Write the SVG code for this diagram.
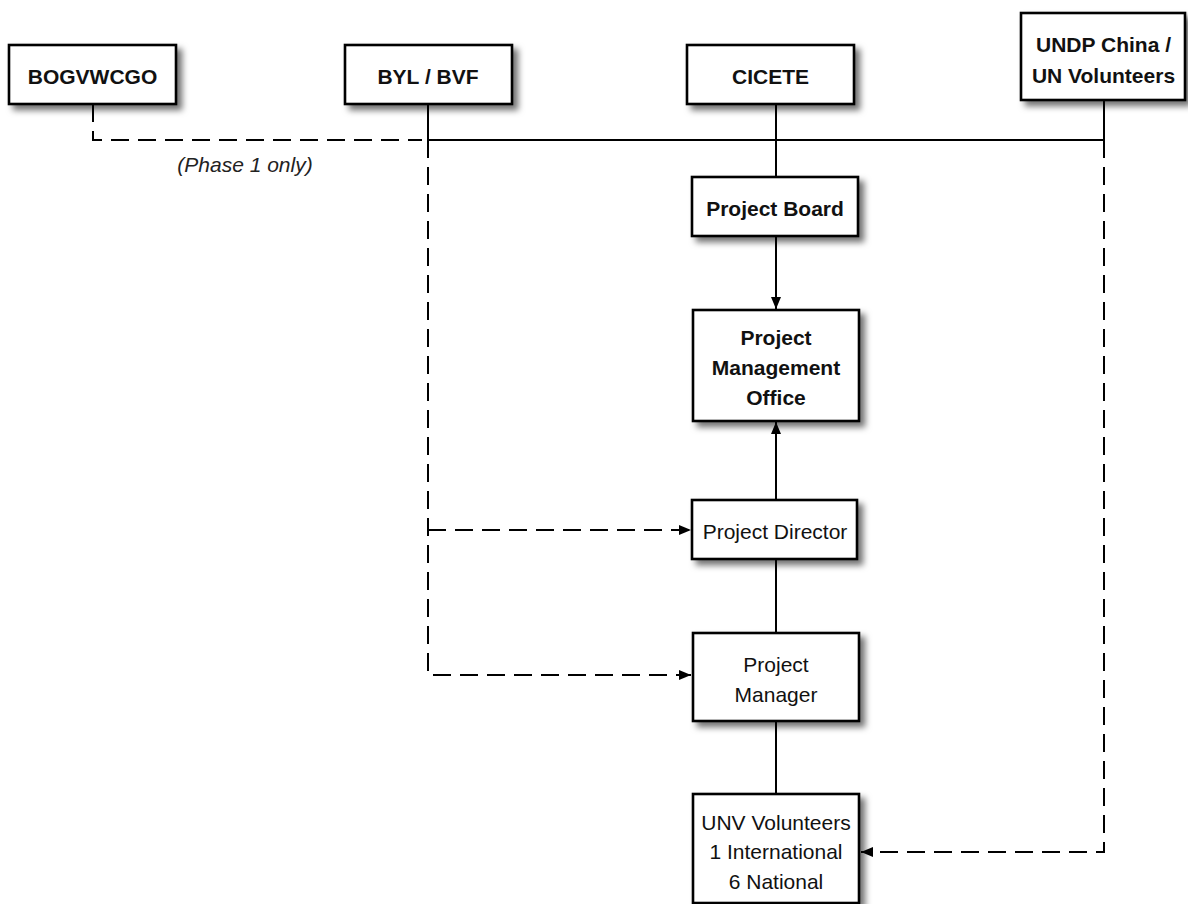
<svg xmlns="http://www.w3.org/2000/svg" width="1188" height="904" viewBox="0 0 1188 904">
  <style>
    .box { fill: #ffffff; stroke: #000000; stroke-width: 2.6; filter: url(#shadow); }
    .t { font-family: "Liberation Sans", Arial, sans-serif; font-size: 21px; fill: #111111; text-anchor: middle; }
    .b { font-weight: bold; }
    .it { font-style: italic; fill: #222222; }
    .solid { fill: none; stroke: #000000; stroke-width: 2; }
    .dash { fill: none; stroke: #000000; stroke-width: 2; stroke-dasharray: 18 9; }
  </style>
  <defs>
    <filter id="shadow" x="-10%" y="-10%" width="130%" height="140%">
      <feDropShadow dx="5" dy="5" stdDeviation="3" flood-color="#000000" flood-opacity="0.55"/>
    </filter>
    <marker id="arrow" viewBox="0 0 12 10" refX="12" refY="5" markerWidth="12" markerHeight="10" markerUnits="userSpaceOnUse" orient="auto">
      <path d="M0,0 L12,5 L0,10 z" fill="#000000" stroke="none"/>
    </marker>
  </defs>
  <rect width="1188" height="904" fill="#ffffff"/>

  <g id="connectors">
    <path class="dash" d="M93,104 V140 H422"/>
    <path class="solid" d="M428,104 V140 H1104"/>
    <path class="solid" d="M1104,100 V140"/>
    <path class="solid" d="M776,104 V177"/>
    <path class="solid" d="M776,236 V309" marker-end="url(#arrow)"/>
    <path class="solid" d="M776,500 V422" marker-end="url(#arrow)"/>
    <path class="solid" d="M776,559 V633"/>
    <path class="solid" d="M776,721 V794"/>
    <path class="dash" d="M428,140 V675 H691" marker-end="url(#arrow)"/>
    <path class="dash" d="M428,530 H691" marker-end="url(#arrow)"/>
    <path class="dash" d="M1104,140 V852 H861" marker-end="url(#arrow)"/>
    <text class="t it" x="245" y="172">(Phase 1 only)</text>
  </g>

  <g id="node-bogvwcgo">
    <rect class="box" x="9" y="45" width="167" height="59"/>
    <text class="t b" x="92.5" y="84">BOGVWCGO</text>
  </g>
  <g id="node-byl-bvf">
    <rect class="box" x="345" y="45" width="167" height="59"/>
    <text class="t b" x="428" y="84">BYL / BVF</text>
  </g>
  <g id="node-cicete">
    <rect class="box" x="687" y="45" width="167" height="59"/>
    <text class="t b" x="770.5" y="84">CICETE</text>
  </g>
  <g id="node-undp">
    <rect class="box" x="1021" y="13" width="164" height="87"/>
    <text class="t b" x="1103.5" y="52">UNDP China /</text>
    <text class="t b" x="1103.5" y="83">UN Volunteers</text>
  </g>
  <g id="node-project-board">
    <rect class="box" x="692" y="177" width="166" height="59"/>
    <text class="t b" x="775" y="216">Project Board</text>
  </g>
  <g id="node-pmo">
    <rect class="box" x="693" y="310" width="166" height="111"/>
    <text class="t b" x="776" y="345">Project</text>
    <text class="t b" x="776" y="375">Management</text>
    <text class="t b" x="776" y="405">Office</text>
  </g>
  <g id="node-project-director">
    <rect class="box" x="692" y="500" width="165" height="59"/>
    <text class="t" x="775" y="539">Project Director</text>
  </g>
  <g id="node-project-manager">
    <rect class="box" x="693" y="633" width="166" height="88"/>
    <text class="t" x="776" y="672">Project</text>
    <text class="t" x="776" y="702">Manager</text>
  </g>
  <g id="node-unv">
    <rect class="box" x="693" y="794" width="166" height="109"/>
    <text class="t" x="776" y="830">UNV Volunteers</text>
    <text class="t" x="776" y="859">1 International</text>
    <text class="t" x="776" y="889">6 National</text>
  </g>
</svg>
